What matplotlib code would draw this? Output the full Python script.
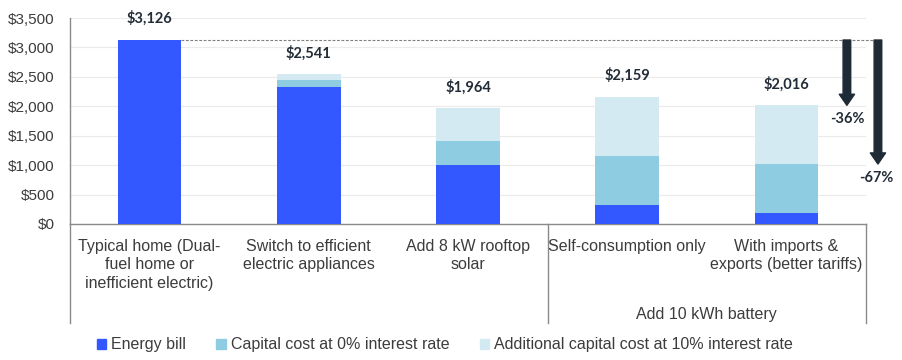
import matplotlib
matplotlib.use('Agg')
import matplotlib.pyplot as plt
from matplotlib.patches import Patch
from matplotlib.ticker import FuncFormatter

# data
categories = ['Typical home (Dual-\nfuel home or\ninefficient electric)',
              'Switch to efficient\nelectric appliances',
              'Add 8 kW rooftop\nsolar',
              'Self-consumption only',
              'With imports &\nexports (better tariffs)']
energy_bill = [3126, 2323, 1007, 328, 192]
capital_0 = [0, 118, 403, 832, 827]
capital_10 = [0, 100, 554, 999, 997]
totals = [3126, 2541, 1964, 2159, 2016]
group_label = 'Add 10 kWh battery'
reductions = ['-36%', '-67%']
reduction_targets = [2016, 1019]

blue = '#3358FF'
mid = '#8DCCE1'
light = '#D3EAF3'
dark = '#1E2A36'
grey_text = '#3C3C3C'

plt.rcParams['font.family'] = ['Liberation Sans', 'DejaVu Sans']

fig = plt.figure(figsize=(9.02, 3.6), dpi=100)
ax = fig.add_axes([70 / 902, 1 - 224 / 360, (866 - 70) / 902, 206 / 360])

x = range(len(categories))
w = 0.4
ax.bar(x, energy_bill, w, color=blue, zorder=3)
ax.bar(x, capital_0, w, bottom=energy_bill, color=mid, zorder=3)
b2 = [e + c for e, c in zip(energy_bill, capital_0)]
ax.bar(x, capital_10, w, bottom=b2, color=light, zorder=3)

for i, t in enumerate(totals):
    ax.annotate(f'${t:,}', (i, t), xytext=(0, 10), textcoords='offset points',
                ha='center', va='bottom', fontsize=10.5, fontweight='bold',
                family='Lato', color='#222C37')

ax.set_xlim(-0.5, 4.5)
ax.set_ylim(0, 3500)
ax.set_yticks(range(0, 3501, 500))
ax.yaxis.set_major_formatter(FuncFormatter(lambda v, p: f'${v:,.0f}'))
ax.tick_params(axis='y', length=0, pad=11, labelsize=11, labelcolor=grey_text)
ax.set_xticks([])
ax.grid(axis='y', color='#EBEBEB', lw=0.8, zorder=0)
for s in ['top', 'right']:
    ax.spines[s].set_visible(False)
for s in ['left', 'bottom']:
    ax.spines[s].set_color('#8A8A8A')
    ax.spines[s].set_linewidth(1)

# baseline dashed line at the typical home level
ax.plot([w / 2, 4.6], [totals[0], totals[0]], ls=(0, (2.5, 1.5)), color='#7F7F7F',
        lw=0.8, clip_on=False, zorder=2)

# reduction arrows
arrow_x = [4.38, 4.575]
label_off = [(0, -10), (-1.5, -10)]
for ax_x, tgt, lab, off in zip(arrow_x, reduction_targets, reductions, label_off):
    ax.annotate('', xy=(ax_x, tgt), xytext=(ax_x, totals[0]),
                arrowprops=dict(arrowstyle='simple,head_width=1.1,head_length=0.8,tail_width=0.55',
                                color=dark, shrinkA=0, shrinkB=0),
                annotation_clip=False, zorder=4)
    ax.annotate(lab, (ax_x, tgt), xytext=off, textcoords='offset points',
                ha='center', va='center', fontsize=10.5, fontweight='bold',
                family='Lato', color='#222C37', annotation_clip=False)

# category labels and group separators below the axis
trans = ax.get_xaxis_transform()
drop = -(323 - 224) / 206
for xv in [-0.5, 2.5, 4.5]:
    ax.plot([xv, xv], [0, drop], transform=trans, color='#8A8A8A', lw=1, clip_on=False)
for i, c in enumerate(categories):
    ax.text(i, -0.072, c, transform=trans, ha='center', va='top', fontsize=11.5,
            color=grey_text, linespacing=1.3)
ax.text(3.5, -(314 - 224) / 206, group_label, transform=trans, ha='center',
        va='center', fontsize=11.5, color=grey_text)

handles = [Patch(color=blue), Patch(color=mid), Patch(color=light)]
labels = ['Energy bill', 'Capital cost at 0% interest rate',
          'Additional capital cost at 10% interest rate']
fig.legend(handles, labels, loc='center', bbox_to_anchor=(0.493, 1 - 345 / 360), ncol=3,
           frameon=False, fontsize=11.5, handlelength=0.6, handleheight=0.6,
           handletextpad=0.3, columnspacing=1.9, labelcolor=grey_text)

fig.savefig('out.png', dpi=100)
